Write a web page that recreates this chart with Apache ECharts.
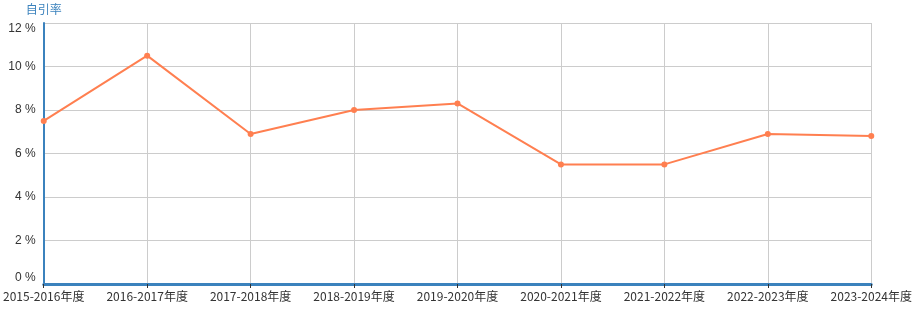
<!DOCTYPE html>
<html>
<head>
<meta charset="utf-8">
<script src="https://cdn.jsdelivr.net/npm/echarts@6/dist/echarts.min.js"></script>
<style>
  html, body { margin: 0; padding: 0; background: #fff; }
  #chart { width: 915px; height: 319px; }
</style>
</head>
<body>
<div id="chart"></div>
<script>
// 年度
const years = ['2015-2016年度', '2016-2017年度', '2017-2018年度', '2018-2019年度', '2019-2020年度',
  '2020-2021年度', '2021-2022年度', '2022-2023年度', '2023-2024年度'];
// 自引率 (%)
const selfCiteRate = [7.5, 10.5, 6.9, 8.0, 8.3, 5.5, 5.5, 6.9, 6.8];

const myChart = echarts.init(document.getElementById('chart'));
const option = {
  animation: false,
  grid: { left: 42, right: 43, top: 23, bottom: 35 },
  xAxis: {
    type: 'category',
    boundaryGap: false,
    data: years,
    axisLine: { lineStyle: { color: '#3b82bd', width: 3 } },
    axisTick: { show: true, interval: 0, lineStyle: { color: '#333' }, length: 4 },
    axisLabel: { interval: 0, color: '#333', fontSize: 12, margin: 6, fontFamily: 'Noto Sans CJK SC' },
    splitLine: { show: true, interval: 0, lineStyle: { color: '#ccc' } }
  },
  yAxis: {
    type: 'value',
    name: '自引率',
    nameGap: 8,
    nameTextStyle: { color: '#3b82bd', fontSize: 12, align: 'center', fontFamily: 'Noto Sans CJK SC' },
    min: 0,
    max: 12,
    interval: 2,
    axisLine: { show: true, lineStyle: { color: '#3b82bd', width: 2 } },
    axisTick: { show: false },
    axisLabel: {
      color: '#333', fontSize: 12, margin: 8, formatter: '{value} %',
      verticalAlignMinLabel: 'bottom', verticalAlignMaxLabel: 'top'
    },
    splitLine: { lineStyle: { color: '#ccc' } }
  },
  series: [{
    type: 'line',
    data: selfCiteRate,
    symbol: 'circle',
    symbolSize: 6,
    itemStyle: { color: '#ff7f50' },
    lineStyle: { color: '#ff7f50', width: 2 }
  }]
};
myChart.setOption(option, true);
</script>
</body>
</html>
